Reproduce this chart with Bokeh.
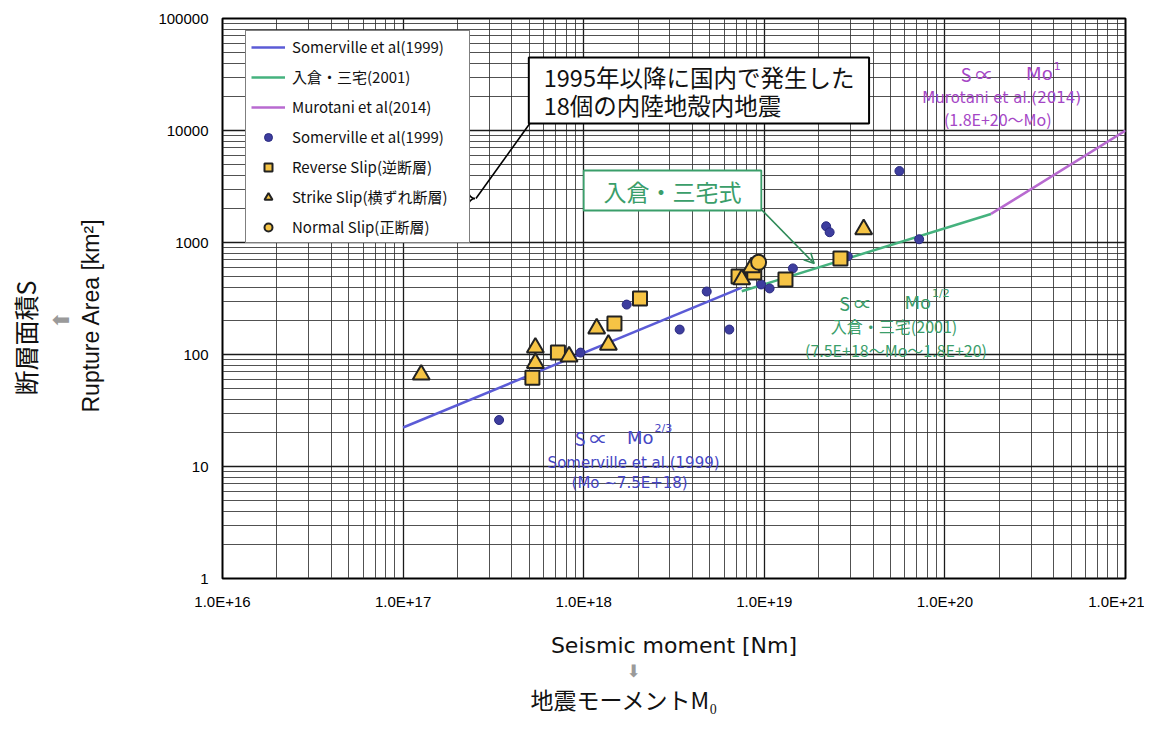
import math
from bokeh.plotting import figure
from bokeh.models import (Label, Legend, LegendItem, Arrow, OpenHead, Title,
                          CustomJSTickFormatter, ColumnDataSource, Range1d)
from bokeh.embed import file_html
from bokeh.resources import INLINE

# ---------------- data ----------------
som_line_mo = [1.0e17, 7.5e18]
som_line_s = [22.3, 396]
irikura_line_mo = [7.5e18, 1.8e20]
irikura_line_s = [367, 1798]
murotani_line_mo = [1.8e20, 1.0e21]
murotani_line_s = [1800, 10000]

som_pts_mo = [3.4e17, 9.6e17, 1.73e18, 3.4e18, 4.8e18, 6.4e18, 9.6e18, 1.07e19,
              1.44e19, 2.2e19, 2.3e19, 2.9e19, 5.6e19, 7.2e19]
som_pts_s = [26, 104, 279, 167, 365, 167, 422, 389, 587, 1397, 1235, 752, 4345, 1069]

reverse_mo = [5.2e17, 7.2e17, 1.48e18, 2.05e18, 7.2e18, 8.8e18, 1.31e19, 2.64e19]
reverse_s = [62, 104, 189, 316, 498, 541, 468, 721]

strike_mo = [1.26e17, 5.4e17, 5.4e17, 8.3e17, 1.18e18, 1.37e18, 7.5e18, 8.5e18, 3.55e19]
strike_s = [66, 115, 84, 96, 170, 122, 468, 600, 1313]

normal_mo = [9.3e18]
normal_s = [665]

# ---------------- layout helpers (picture pixel -> plot coordinates) ----------------
W, H = 1144, 715
FL, FR, FT, FB = 220, 1125, 18, 578


def P(x, y):
    mo = 10 ** (16 + 5.0 * (x - FL) / (FR - FL))
    s = 10 ** (5.0 * (FB - y) / (FB - FT))
    return mo, s


BLUE_L = "#5b5bd6"
BLUE_T = "#4646c4"
GREEN_L = "#45b27e"
GREEN_T = "#3a9e6a"
PURP_L = "#b86ad0"
PURP_T = "#a546c6"
ORANGE = "#f6c445"
DOT = "#3d3d9e"
JP = "Noto Sans CJK JP"

p = figure(width=W, height=H, x_axis_type="log", y_axis_type="log",
           x_range=Range1d(1e16, 1e21), y_range=Range1d(1, 1e5),
           output_backend="svg", toolbar_location=None,
           min_border_left=FL, min_border_right=W - FR, min_border_top=FT,
           min_border_bottom=H - FB)
p.background_fill_color = "white"
p.border_fill_color = "white"
p.outline_line_color = "black"
p.outline_line_width = 2

# grids
for g in (p.xgrid, p.ygrid):
    g.grid_line_color = "#1a1a1a"
    g.grid_line_width = 1.3
    g.minor_grid_line_color = "#333333"
    g.minor_grid_line_width = 1
    g.minor_grid_line_alpha = 0.85

# axes
for ax in (p.xaxis, p.yaxis):
    ax.axis_line_color = None
    ax.major_tick_in = 0
    ax.major_tick_out = 0
    ax.minor_tick_in = 0
    ax.minor_tick_out = 0
    ax.major_label_text_font = "Liberation Sans"
    ax.major_label_text_font_size = "15px"
    ax.major_label_text_color = "black"

p.xaxis.formatter = CustomJSTickFormatter(code="return '1.0E+' + Math.round(Math.log10(tick));")
p.yaxis.formatter = CustomJSTickFormatter(code="return String(Math.round(tick));")
p.xaxis.major_label_standoff = 14
p.yaxis.major_label_standoff = 14

p.xaxis.axis_label = "Seismic moment [Nm]"
p.xaxis.axis_label_text_font = "DejaVu Sans"
p.xaxis.axis_label_text_font_size = "22px"
p.xaxis.axis_label_text_font_style = "normal"
p.xaxis.axis_label_text_color = "#111111"
p.xaxis.axis_label_standoff = 20

# blank spacer label on the y axis so that the titles further out sit where the reference has them
p.yaxis.axis_label = " "
p.yaxis.axis_label_text_font_size = "10px"
p.yaxis.axis_label_standoff = 36


def side_title(text, side, offset, size, font, color, standoff):
    t = Title(text=text, align="left", offset=offset, standoff=standoff,
              text_font=font, text_font_size=size, text_font_style="normal",
              text_color=color)
    p.add_layout(t, side)


# below the x axis: arrow and Japanese label
side_title("⬇", "below", 404, "17px", "DejaVu Sans", "#9a9a9a", -3)
side_title("地震モーメントM₀", "below", 308, "23px", JP, "#111111", 0)
# left of the y axis: English label, arrow, Japanese label
side_title("Rupture Area [km²]", "left", FB - 412, "23px", "Liberation Sans", "#111111", 4)
side_title("⬆", "left", FB - 329, "22px", "DejaVu Sans", "#9a9a9a", 0)
side_title("断層面積S", "left", FB - 395, "25px", JP, "#111111", 8)

# ---------------- lines ----------------
r_som = p.line(som_line_mo, som_line_s, line_color=BLUE_L, line_width=2.5)
r_iri = p.line(irikura_line_mo, irikura_line_s, line_color=GREEN_L, line_width=2.5)
r_mur = p.line(murotani_line_mo, murotani_line_s, line_color=PURP_L, line_width=2.5)

# ---------------- points ----------------
p.scatter(som_pts_mo, som_pts_s, marker="circle", size=9, fill_color=DOT,
          line_color="#2a2a80", line_width=1)
p.scatter(reverse_mo, reverse_s, marker="square", size=14, fill_color=ORANGE,
          line_color="#222222", line_width=2)
p.scatter(strike_mo, strike_s, marker="triangle", size=17, fill_color=ORANGE,
          line_color="#222222", line_width=2)
p.scatter(normal_mo, normal_s, marker="circle", size=15, fill_color=ORANGE,
          line_color="#222222", line_width=2)

# legend proxies (one point off the chart, smaller markers as in the reference legend)
nan = float("nan")


def proxy():
    return ColumnDataSource(data=dict(x=[nan], y=[nan]))


lp_dot = p.scatter("x", "y", source=proxy(), marker="circle", size=8,
                   fill_color=DOT, line_color="#2a2a80")
lp_sq = p.scatter("x", "y", source=proxy(), marker="square", size=10,
                  fill_color=ORANGE, line_color="#222222", line_width=2)
lp_tri = p.scatter("x", "y", source=proxy(), marker="triangle", size=11,
                   fill_color=ORANGE, line_color="#222222", line_width=2)
lp_ci = p.scatter("x", "y", source=proxy(), marker="circle", size=10,
                  fill_color=ORANGE, line_color="#222222", line_width=2)

legend = Legend(items=[
    LegendItem(label="Somerville et al(1999)", renderers=[r_som]),
    LegendItem(label="入倉・三宅(2001)", renderers=[r_iri]),
    LegendItem(label="Murotani et al(2014)", renderers=[r_mur]),
    LegendItem(label="Somerville et al(1999)", renderers=[lp_dot]),
    LegendItem(label="Reverse Slip(逆断層)", renderers=[lp_sq]),
    LegendItem(label="Strike Slip(横ずれ断層)", renderers=[lp_tri]),
    LegendItem(label="Normal Slip(正断層)", renderers=[lp_ci]),
], location=(23, 335))
legend.label_text_font = JP
legend.label_text_font_size = "15px"
legend.label_text_color = "#111111"
legend.glyph_width = 34
legend.glyph_height = 20
legend.label_height = 20
legend.label_width = 172
legend.spacing = 9
legend.padding = 5
legend.margin = 0
legend.label_standoff = 7
legend.border_line_color = "black"
legend.border_line_width = 1.5
legend.background_fill_color = "white"
legend.background_fill_alpha = 1.0
p.add_layout(legend, "center")

# ---------------- brace and callout ----------------
segs = [((459, 158), (466, 166), (465, 158), (466, 161)),
        ((466, 190), (473, 198), (466, 195), (470, 198)),
        ((473, 198), (466, 206), (470, 198), (466, 201)),
        ((466, 230), (459, 238), (466, 235), (465, 238))]
bz = dict(x0=[], y0=[], x1=[], y1=[], cx0=[], cy0=[], cx1=[], cy1=[])
for a, b, c0, c1 in segs:
    for key, pt in (("0", a), ("1", b)):
        mx, my = P(*pt)
        bz["x" + key].append(mx)
        bz["y" + key].append(my)
    for key, pt in (("cx0", c0), ("cx1", c1)):
        mx, my = P(*pt)
        bz[key].append(mx)
        bz[key.replace("x", "y")].append(my)
p.bezier(x0="x0", y0="y0", x1="x1", y1="y1", cx0="cx0", cy0="cy0", cx1="cx1", cy1="cy1",
         source=ColumnDataSource(bz), line_color="black", line_width=1.6)
for (a, b) in (((466, 166), (466, 190)), ((466, 206), (466, 230))):
    xa, ya = P(*a)
    xb, yb = P(*b)
    p.line([xa, xb], [ya, yb], line_color="black", line_width=1.6)

ca = P(474, 198)
cb = P(528, 123)
p.line([ca[0], cb[0]], [ca[1], cb[1]], line_color="black", line_width=1.6)

# annotation box 1
b1l, b1b = P(527, 123)
b1r, b1t = P(868, 57)
p.quad(left=[b1l], right=[b1r], bottom=[b1b], top=[b1t], fill_color="white",
       line_color="black", line_width=2)
for txt, yy in (("1995年以降に国内で発生した", 76), ("18個の内陸地殻内地震", 104)):
    lx, ly = P(542, yy)
    p.add_layout(Label(x=lx, y=ly, text=txt, text_font=JP, text_font_size="23.5px",
                       text_color="#111111", text_align="left", text_baseline="middle"))

# green box
g1l, g1b = P(582, 210)
g1r, g1t = P(760, 170)
p.quad(left=[g1l], right=[g1r], bottom=[g1b], top=[g1t], fill_color="white",
       line_color=GREEN_T, line_width=1.8)
gx, gy = P(671, 190)
p.add_layout(Label(x=gx, y=gy, text="入倉・三宅式", text_font=JP, text_font_size="23px",
                   text_color=GREEN_T, text_align="center", text_baseline="middle"))
asx, asy = P(760, 209)
aex, aey = P(813, 263)
p.add_layout(Arrow(x_start=asx, y_start=asy, x_end=aex, y_end=aey,
                   line_color="#2f8a58", line_width=1.6,
                   end=OpenHead(size=10, line_color="#2f8a58", line_width=1.6)))


def lab(px, py, text, color, size, align="center", font="DejaVu Sans"):
    x, y = P(px, py)
    p.add_layout(Label(x=x, y=y, text=text, text_font=font, text_font_size=size,
                       text_color=color, text_align=align, text_baseline="middle"))


# Somerville annotation (blue)
lab(573, 437, "S ∝", BLUE_T, "18px", "left", JP)
lab(652, 437, "Mo", BLUE_T, "18px", "right")
lab(653, 428, "2/3", BLUE_T, "11px", "left")
lab(632, 462, "Somerville et al.(1999)", BLUE_T, "15px", "center")
lab(628, 482, "(Mo ~7.5E+18)", BLUE_T, "15px", "center")

# Irikura annotation (green)
lab(838, 302, "S ∝", GREEN_T, "18px", "left", JP)
lab(930, 302, "Mo", GREEN_T, "18px", "right")
lab(931, 293, "1/2", GREEN_T, "11px", "left")
lab(893, 325, "入倉・三宅(2001)", GREEN_T, "16px", "center", JP)
lab(895, 349, "(7.5E+18～Mo～1.8E+20)", GREEN_T, "16px", "center", JP)

# Murotani annotation (purple)
lab(960, 73, "S ∝", PURP_T, "18px", "left", JP)
lab(1052, 73, "Mo", PURP_T, "18px", "right")
lab(1053, 65, "1", PURP_T, "11px", "left")
lab(1001, 97, "Murotani et al.(2014)", PURP_T, "15px", "center")
lab(997, 118, "(1.8E+20～Mo)", PURP_T, "16px", "center", JP)

open("out.html", "w").write(file_html(p, INLINE))
